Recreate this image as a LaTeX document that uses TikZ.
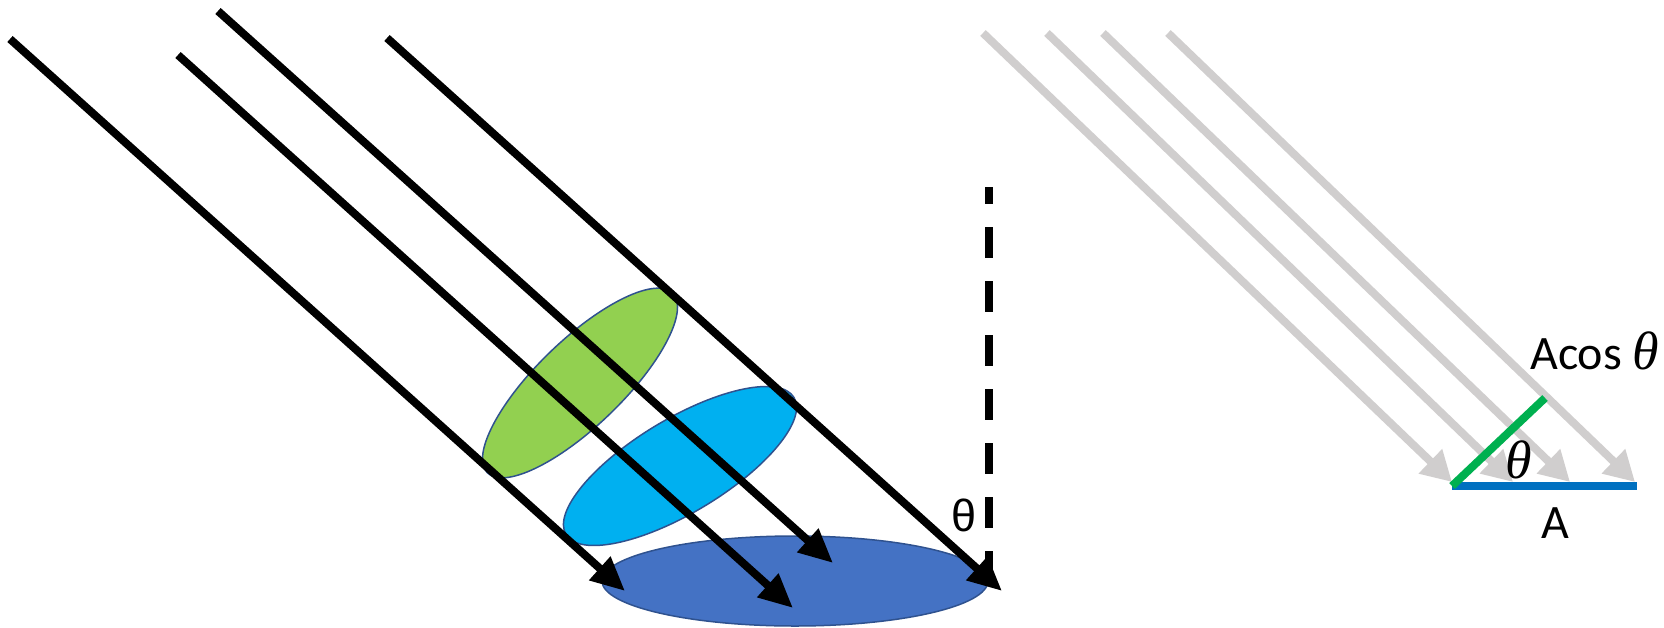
\documentclass[tikz,border=0pt]{standalone}
\usepackage{fontspec}
\setmainfont{Carlito}
\newfontfamily\sansthetafont{Liberation Sans}
\newfontfamily\serifthetafont{Liberation Serif}
\usetikzlibrary{arrows.meta}
\definecolor{gfill}{HTML}{92D050}
\definecolor{cfill}{HTML}{00B0F0}
\definecolor{dfill}{HTML}{4472C4}
\definecolor{discedge}{HTML}{2F528F}
\definecolor{greyray}{HTML}{D0CECE}
\definecolor{bline}{HTML}{0070C0}
\definecolor{gline}{HTML}{00B050}
\begin{document}
\begin{tikzpicture}[x=1pt,y=-1pt,
  ray/.style={line width=8pt,-{Triangle[length=34pt,width=30pt]}},
  lightray/.style={line width=8pt,draw=greyray,-{Triangle[length=30pt,width=32pt,fill=greyray]}},
  disc/.style={draw=discedge,line width=1.5pt},
  vertline/.style={line width=8pt,dash pattern=on 31pt off 23pt,dash phase=14pt},
  lbl/.style={inner sep=0pt,font=\fontsize{48}{54}\selectfont},
  ruleline/.style={line width=8pt}]
\useasboundingbox (0,0) rectangle (1664,627);
\fill[white] (0,0) rectangle (1664,627);

% discs
\draw[disc,fill=gfill,rotate around={44:(580,383)}] (580,383) ellipse [x radius=129, y radius=43];
\draw[disc,fill=cfill,rotate around={31:(680,466)}] (680,466) ellipse [x radius=133, y radius=47];
\draw[disc,fill=dfill] (795,581) ellipse [x radius=193, y radius=45];

% vertical dashed normal
\coordinate (d1) at (989,187);
\coordinate (d2) at (989,584);
\draw[vertline] (d1) -- (d2);

% black rays
\coordinate (a1s) at (10,39);   \coordinate (a1e) at (625,591);
\coordinate (a2s) at (178,55);  \coordinate (a2e) at (793,608);
\coordinate (a3s) at (218,11);  \coordinate (a3e) at (833,563);
\coordinate (a4s) at (387,38);  \coordinate (a4e) at (1002,591);
\draw[ray] (a1s) -- (a1e);
\draw[ray] (a2s) -- (a2e);
\draw[ray] (a3s) -- (a3e);
\draw[ray] (a4s) -- (a4e);

\node[lbl,anchor=base,font=\fontsize{45}{50}\selectfont\sansthetafont] (th1) at (964,531) {θ};

% grey rays
\coordinate (g1s) at (983,33);  \coordinate (g1e) at (1452,482);
\coordinate (g2s) at (1047,33); \coordinate (g2e) at (1513,482);
\coordinate (g3s) at (1103,33); \coordinate (g3e) at (1570,482);
\coordinate (g4s) at (1168,33); \coordinate (g4e) at (1635,482);
\draw[lightray] (g1s) -- (g1e);
\draw[lightray] (g2s) -- (g2e);
\draw[lightray] (g3s) -- (g3e);
\draw[lightray] (g4s) -- (g4e);

% area lines
\coordinate (p0) at (1452,486);
\coordinate (p1) at (1637,486);
\coordinate (p2) at (1545,398);
\draw[ruleline,draw=bline] (p0) -- (p1);
\draw[line width=8pt,draw=gline] (p0) -- (p2);

\node[lbl,anchor=base west] (acos) at (1530,369) {Acos {\fontsize{54}{60}\selectfont\serifthetafont\itshape θ}};
\node[lbl,anchor=base,font=\fontsize{54}{60}\selectfont\serifthetafont\itshape] (th2) at (1519,478) {θ};
\node[lbl,anchor=base] (alab) at (1555,538) {A};
\end{tikzpicture}
\end{document}
